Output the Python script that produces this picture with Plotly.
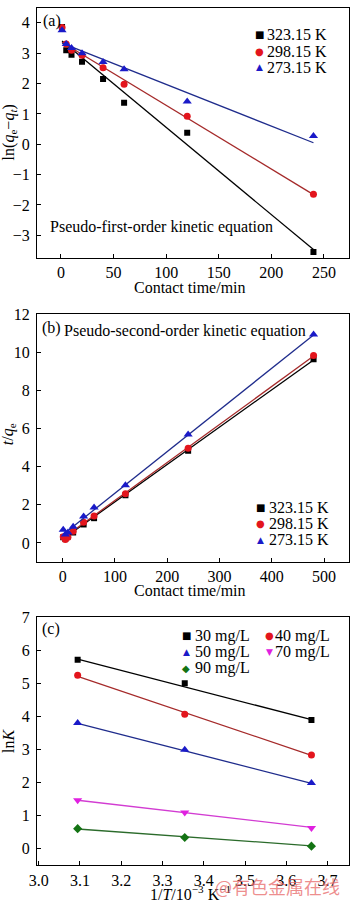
import plotly.graph_objects as go
from plotly.subplots import make_subplots

# ---------- data ----------
# (a) pseudo-first-order
time_a = [1, 5, 10, 20, 40, 60, 120, 240]
lnq_323 = [3.86, 3.10, 2.95, 2.72, 2.15, 1.37, 0.38, -3.55]
lnq_298 = [3.85, 3.30, 3.10, 2.93, 2.52, 1.98, 0.92, -1.65]
lnq_273 = [3.76, 3.30, 3.17, 3.00, 2.71, 2.47, 1.41, 0.27]
fit_time_a = [1, 240]
fit_a_323 = [3.40, -3.47]
fit_a_298 = [3.36, -1.66]
fit_a_273 = [3.33, 0.05]

# (b) pseudo-second-order
time_b = [1, 5, 10, 20, 40, 60, 120, 240, 480]
tq_323 = [0.30, 0.22, 0.35, 0.55, 0.97, 1.30, 2.50, 4.83, 9.63]
tq_298 = [0.33, 0.18, 0.30, 0.62, 1.08, 1.42, 2.58, 4.97, 9.83]
tq_273 = [0.69, 0.45, 0.55, 0.85, 1.39, 1.86, 3.03, 5.69, 10.93]
fit_time_b = [1, 480]
fit_b_323 = [0.22, 9.60]
fit_b_298 = [0.26, 9.80]
fit_b_273 = [0.45, 10.91]

# (c) van't Hoff
invT = [3.0945, 3.354, 3.661]
lnK_30 = [5.72, 5.01, 3.90]
lnK_40 = [5.25, 4.07, 2.84]
lnK_50 = [3.81, 3.00, 1.99]
lnK_70 = [1.47, 1.10, 0.63]
lnK_90 = [0.61, 0.34, 0.08]
fit_c_30 = [5.74, 3.91]
fit_c_40 = [5.22, 2.83]
fit_c_50 = [3.80, 1.98]
fit_c_70 = [1.47, 0.65]
fit_c_90 = [0.60, 0.09]

temps = ["323.15 K", "298.15 K", "273.15 K"]
concs = ["30 mg/L", "40 mg/L", "50 mg/L", "70 mg/L", "90 mg/L"]

# ---------- style ----------
FONT = "Liberation Serif"
FS = 16
W, H = 350, 902
L, R = 37, 1
PW = W - L - R

def X(px):
    return (px - L) / PW

def Y(py):
    return 1 - py / H

mk_black = "#000000"
mk_red = "#e3151d"
ln_red = "#a52a2a"
mk_blue = "#1a1ac8"
ln_blue = "#1f2c8c"
mk_mag = "#e020e0"
ln_mag = "#d23cd2"
mk_green = "#137313"
ln_green = "#2b6b2b"

fig = make_subplots(rows=3, cols=1)

def add_series(row, x, y, fx, fy, name, mcol, lcol, symbol, size):
    fig.add_trace(go.Scatter(x=fx, y=fy, mode="lines", line=dict(color=lcol, width=1.3),
                             showlegend=False, hoverinfo="skip"), row=row, col=1)
    fig.add_trace(go.Scatter(x=x, y=y, mode="markers", name=name, showlegend=False,
                             marker=dict(color=mcol, symbol=symbol, size=size, line=dict(width=0))),
                  row=row, col=1)

# (a)
add_series(1, time_a, lnq_323, fit_time_a, fit_a_323, temps[0], mk_black, "#000000", "square", 6)
add_series(1, time_a, lnq_298, fit_time_a, fit_a_298, temps[1], mk_red, ln_red, "circle", 7)
add_series(1, time_a, lnq_273, fit_time_a, fit_a_273, temps[2], mk_blue, ln_blue, "triangle-up", 8)
# (b)
add_series(2, time_b, tq_323, fit_time_b, fit_b_323, temps[0], mk_black, "#000000", "square", 6)
add_series(2, time_b, tq_298, fit_time_b, fit_b_298, temps[1], mk_red, ln_red, "circle", 7)
add_series(2, time_b, tq_273, fit_time_b, fit_b_273, temps[2], mk_blue, ln_blue, "triangle-up", 8)
# (c)
fitx_c = [invT[0], invT[-1]]
add_series(3, invT, lnK_30, fitx_c, fit_c_30, concs[0], mk_black, "#000000", "square", 6)
add_series(3, invT, lnK_40, fitx_c, fit_c_40, concs[1], mk_red, ln_red, "circle", 7)
add_series(3, invT, lnK_50, fitx_c, fit_c_50, concs[2], mk_blue, ln_blue, "triangle-up", 8)
add_series(3, invT, lnK_70, fitx_c, fit_c_70, concs[3], mk_mag, ln_mag, "triangle-down", 8)
add_series(3, invT, lnK_90, fitx_c, fit_c_90, concs[4], mk_green, ln_green, "diamond", 7)

axis_common = dict(showline=True, linecolor="black", linewidth=1.2, mirror=True,
                   ticks="inside", ticklen=4, tickwidth=1.1, tickcolor="black",
                   showgrid=False, zeroline=False, ticklabeloverflow="allow",
                   tickfont=dict(family=FONT, size=FS, color="black"))

dom = {1: (0, 252), 2: (308.5, 559), 3: (614, 865)}
xr = {1: ([-22.8, 273.8], 50, None), 2: ([-49.2, 547.8], 100, None), 3: ([2.996, 3.752], 0.1, ".1f")}
yr = {1: ([-3.74, 4.49], 1), 2: ([-1, 12.02], 2), 3: ([-0.5, 7.03], 1)}
for r in (1, 2, 3):
    sfx = "" if r == 1 else str(r)
    top, bot = dom[r]
    xrange_, xd, xf = xr[r]
    fig.layout["xaxis" + sfx].update(range=xrange_, dtick=xd, tick0=0, domain=[0, 1], **axis_common)
    if xf:
        fig.layout["xaxis" + sfx].update(tickformat=xf, tick0=3.0)
    yrange_, yd = yr[r]
    fig.layout["yaxis" + sfx].update(range=yrange_, dtick=yd, tick0=0, domain=[Y(bot), Y(top)],
                                     ticklabelstandoff=3, **axis_common)

ann = []
def A(text, px, py, size=FS, xanchor="left", angle=0, color="black", family=FONT):
    ann.append(dict(text=text, x=X(px), y=Y(py), xref="paper", yref="paper",
                    xanchor=xanchor, yanchor="middle", showarrow=False, textangle=angle,
                    font=dict(family=family, size=size, color=color)))

# legend keys (symbol glyph + label)
GLYPH = {"square": ("■", 10), "circle": ("●", 10), "triangle-up": ("▲", 9),
         "triangle-down": ("▼", 9), "diamond": ("◆", 10)}

def key(symbol, color, label, mx, tx, py):
    g, s = GLYPH[symbol]
    A(g, mx, py, size=s, xanchor="center", color=color, family="DejaVu Sans")
    A(label, tx - 1, py)

key("square", mk_black, temps[0], 259, 266, 27)
key("circle", mk_red, temps[1], 259, 266, 43.5)
key("triangle-up", mk_blue, temps[2], 259, 266, 60)

key("square", mk_black, temps[0], 260, 268, 503.5)
key("circle", mk_red, temps[1], 260, 268, 520)
key("triangle-up", mk_blue, temps[2], 260, 268, 536.5)

key("square", mk_black, concs[0], 186, 194, 633.5)
key("circle", mk_red, concs[1], 269.5, 274, 633.5)
key("triangle-up", mk_blue, concs[2], 186, 194, 650)
key("triangle-down", mk_mag, concs[3], 269.5, 274, 650)
key("diamond", mk_green, concs[4], 186, 194, 666)

A("(a)", 41, 13)
A("Pseudo-first-order kinetic equation", 48, 221)
A("(b)", 40, 323)
A("Pseudo-second-order kinetic equation", 62, 326)
A("(c)", 40, 627)
A("Contact time/min", 190, 282, xanchor="center")
A("Contact time/min", 190, 588, xanchor="center")
A("1/<i>T</i>/10<sup>−3</sup> K<sup>−1</sup>", 190, 893, xanchor="center")
A("ln(<i>q</i><sub>e</sub>−<i>q</i><sub><i>t</i></sub>)", 9.5, 125, xanchor="center", angle=-90)
A("<i>t</i>/<i>q</i><sub>e</sub>", 8, 430, xanchor="center", angle=-90)
A("ln<i>K</i>", 8.5, 740, xanchor="center", angle=-90)
A("@有色金属在线", 277, 886, size=18, xanchor="center", color="rgba(232,105,105,0.75)",
  family="Noto Sans CJK SC")

fig.update_layout(annotations=ann, width=W, height=H, showlegend=False,
                  margin=dict(l=L, r=R, t=0, b=0),
                  paper_bgcolor="white", plot_bgcolor="white",
                  font=dict(family=FONT, size=FS, color="black"))

fig.write_html("out.html")
